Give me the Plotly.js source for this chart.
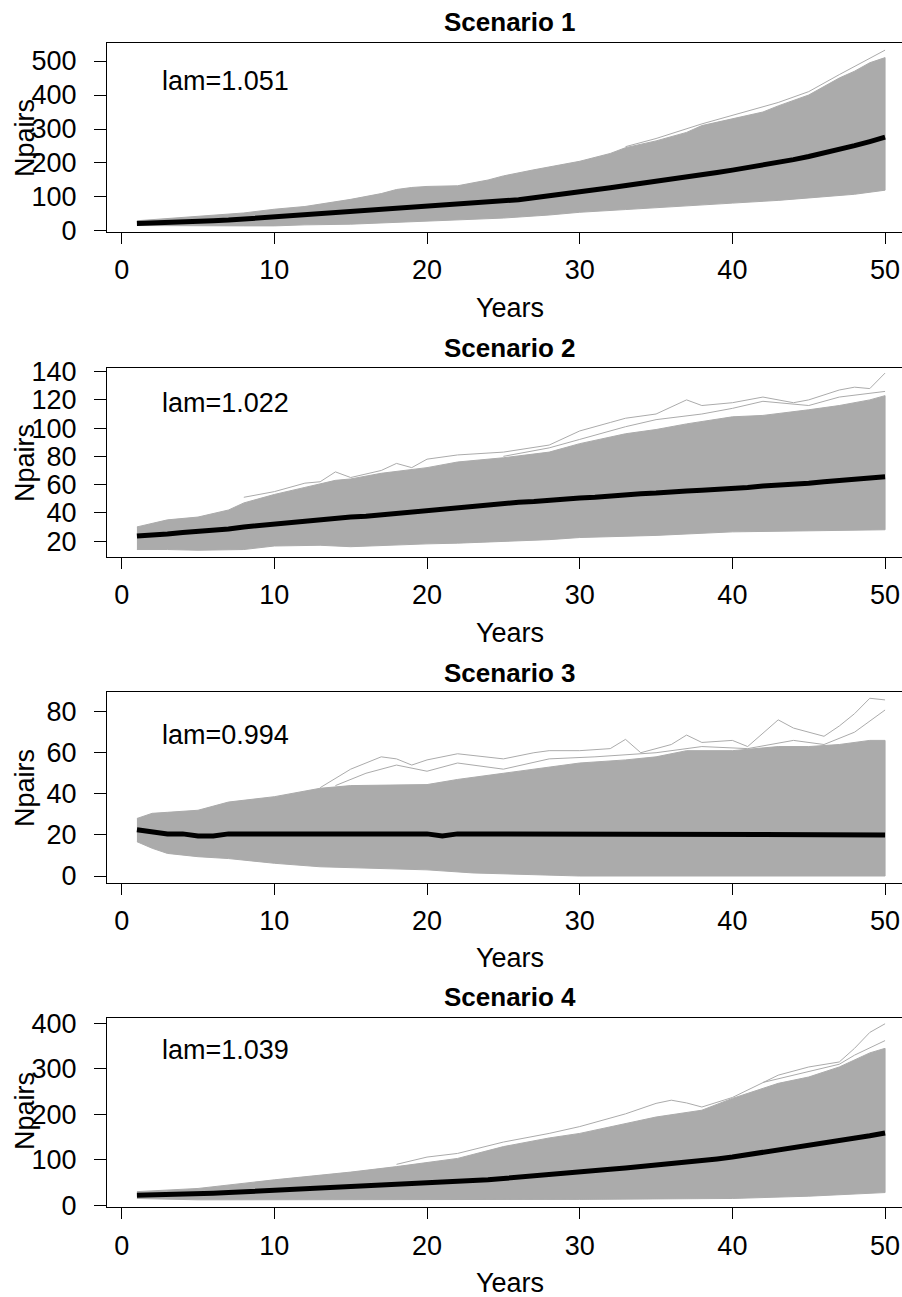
<!DOCTYPE html>
<html><head><meta charset="utf-8">
<script src="https://cdn.plot.ly/plotly-3.0.1.min.js"></script>
<style>html,body{margin:0;padding:0;overflow:hidden;background:#fff}</style>
</head><body><div id="chart"></div>
<script>
// ---------- data ----------
const years = [1,2,3,4,5,6,7,8,9,10,11,12,13,14,15,16,17,18,19,20,21,22,23,24,25,26,27,28,29,30,31,32,33,34,35,36,37,38,39,40,41,42,43,44,45,46,47,48,49,50];
const xTicks = [0,10,20,30,40,50];

// Scenario 1
const s1Median = [22,23,25,26,28,30,32,35,38,41,44,47,50,53,56,59,62,65,68,71,74,77,80,83,87,92,98,103,109,115,121,127,133,139,145,151,158,165,172,179,186,194,202,210,219,229,240,251,263,276];
const s1UpperX = [1,3,5,8,10,12,15,17,18,19,20,22,24,25,27,30,32,33,35,37,38,40,42,43,45,46,47,48,49,50];
const s1UpperY = [30,36,43,53,64,72,93,110,122,128,131,133,150,162,180,205,228,245,265,290,310,330,350,368,400,425,450,470,495,510];
const s1LowerX = [1,3,5,8,10,12,15,18,20,22,25,28,30,33,35,38,40,43,45,48,50];
const s1LowerY = [16,14,15,15,15,18,20,26,30,33,38,47,55,63,70,77,82,90,96,108,120];
const s1OutX = [33,35,38,40,43,45,47,50];
const s1OutY = [248,272,315,340,378,410,460,532];
const s1Ticks = [0,100,200,300,400,500];

// Scenario 2
const s2Median = [23.5,24,25,26,26.6,27.5,28.5,30,31,32.5,33,34,35,36,37,37.5,38.5,39.5,41,42,43,44,45,46,47,47.5,48,49,49.5,50.5,51,52,53,53.5,54,55,55.5,56,56.5,57.5,58,59,59.5,60,61,62,63,64,64.5,65.5];
const s2UpperX = [1,3,5,7,8,10,12,14,15,17,20,22,25,28,30,33,35,37,40,42,45,47,49,50];
const s2UpperY = [30,35,37,42,47,53,58,63,64,68,72,76,79,83,89,96,99,103,108,109,113,116,120,123];
const s2LowerX = [1,3,5,8,10,13,15,17,20,22,25,28,30,35,40,45,50];
const s2LowerY = [14,14,13.5,14,16.5,17,16,17,18,18.5,19.5,21,22.5,24,26.5,27.5,28];
const s2OutAX = [8,10,12,13,14,15,17,18,19,20,22,25,28,30,32,33,35,37,38,40,42,44,45,47,48,49,50];
const s2OutAY = [51,55,61,62,69,65,70,75,72,78,81,83,88,98,104,107,110,120,116,118,122,118,120,127,129,128,139];
const s2OutBX = [25,28,30,33,35,38,40,42,45,47,50];
const s2OutBY = [80,86,92,101,106,110,114,119,116,122,126];
const s2Ticks = [20,40,60,80,100,120,140];

// Scenario 3
const s3Median = [22.5,21.5,20.5,20.5,19.5,19.5,20.5,20.5,20.5,20.5,20.5,20.5,20.5,20.5,20.5,20.5,20.5,20.5,20.5,20.5,19.5,20.5,20.5,20.5,20,20,20,20,20,20,20,20,20,20,20,20,20,20,20,20,20,20,20,20,20,20,20,20,20,20];
const s3UpperX = [1,2,3,5,7,10,13,15,20,22,25,28,30,33,35,37,40,43,45,47,49,50];
const s3UpperY = [28,30.5,31,32,36,38.6,42.7,44,44.5,47,50,53,55,56.5,58,61,61,63,63,64,66,66];
const s3LowerX = [1,2,3,5,7,10,13,17,20,23,25,30,50];
const s3LowerY = [16.7,13.5,11,9.4,8.5,6.2,4.5,3.5,3,1.5,1,0,0];
const s3OutAX = [13,15,17,18,19,20,22,24,25,27,28,30,32,33,34,36,37,38,40,41,43,44,45,46,47,48,49,50];
const s3OutAY = [43,52,58,57,54,56.5,59.5,58,57,60,61,61,62,66.5,60,64,68.6,65,66,63,76,72,70,68,73,79,86.5,85.7];
const s3OutBX = [14,16,18,20,22,25,28,31,35,38,41,44,46,48,50];
const s3OutBY = [44,50,54,51,55,52,57,58,60,63,62,66,64,70,80.8];
const s3Ticks = [0,20,40,60,80];

// Scenario 4
const s4Median = [22,22.5,23,24,25,26.5,28,29.5,31,33,34.5,36,37,38.5,40,41.5,43,44.5,46,48,49.5,51,53.5,56,59,61.5,64,67,70,73,76,79,82,85,88,91.5,95,98.5,102,106,111,116,121,126,132,137,142,147,153,159];
const s4UpperX = [1,5,10,15,18,20,22,25,28,30,33,35,38,40,43,45,47,48,49,50];
const s4UpperY = [30,37,56,73,85,94,103,129,148,158,180,194,209,235,268,282,304,320,335,345];
const s4LowerX = [1,5,10,20,30,40,45,50];
const s4LowerY = [15,12,12,12,13,15,20,28];
const s4OutAX = [18,20,22,25,28,30,33,35,36,37,38,40,43,45,47,48,49,50];
const s4OutAY = [90,106,114,139,158,173,201,224,231,225,216,237,286,304,315,345,380,399];
const s4OutBX = [42,45,47,48,50];
const s4OutBY = [270,295,310,330,362];
const s4Ticks = [0,100,200,300,400];

const titles = ['Scenario 1','Scenario 2','Scenario 3','Scenario 4'];
const lams = ['lam=1.051','lam=1.022','lam=0.994','lam=1.039'];

// ---------- layout geometry ----------
const W = 920, H = 1297;
const FONT = 'Liberation Sans, Arial, sans-serif';
const GREY = '#ababab';
const px = v => v / W;
const py = v => 1 - v / H;

const panels = [
  {med:s1Median, ux:s1UpperX, uy:s1UpperY, lx:s1LowerX, ly:s1LowerY, outs:[[s1OutX,s1OutY]], ticks:s1Ticks, range:[-3,553], top:43, bot:232, titleY:22, yearsY:308, npY:138, lamY:81},
  {med:s2Median, ux:s2UpperX, uy:s2UpperY, lx:s2LowerX, ly:s2LowerY, outs:[[s2OutAX,s2OutAY],[s2OutBX,s2OutBY]], ticks:s2Ticks, range:[8.7,142.8], top:367.7, bot:557, titleY:348, yearsY:633, npY:463, lamY:403},
  {med:s3Median, ux:s3UpperX, uy:s3UpperY, lx:s3LowerX, ly:s3LowerY, outs:[[s3OutAX,s3OutAY],[s3OutBX,s3OutBY]], ticks:s3Ticks, range:[-3.4,89.7], top:691.7, bot:883, titleY:673, yearsY:958, npY:788, lamY:735},
  {med:s4Median, ux:s4UpperX, uy:s4UpperY, lx:s4LowerX, ly:s4LowerY, outs:[[s4OutAX,s4OutAY],[s4OutBX,s4OutBY]], ticks:s4Ticks, range:[-4.4,411], top:1018.3, bot:1207.3, titleY:997, yearsY:1283, npY:1111, lamY:1050}
];

const traces = [];
const layout = {
  width: W, height: H,
  margin: {l:0, r:0, t:0, b:0},
  paper_bgcolor: '#fff', plot_bgcolor: '#fff',
  showlegend: false,
  font: {family: FONT, color: '#000'},
  annotations: []
};

panels.forEach((p, i) => {
  const n = i + 1;
  const xa = n === 1 ? 'x' : 'x' + n;
  const ya = n === 1 ? 'y' : 'y' + n;
  // band polygon built from the envelope arrays
  const bx = p.ux.concat(p.lx.slice().reverse());
  const by = p.uy.concat(p.ly.slice().reverse());
  traces.push({x: bx, y: by, xaxis: xa, yaxis: ya, mode: 'lines', fill: 'toself',
    fillcolor: GREY, line: {color: GREY, width: 1}, hoverinfo: 'skip'});
  p.outs.forEach(o => {
    traces.push({x: o[0], y: o[1], xaxis: xa, yaxis: ya, mode: 'lines',
      line: {color: GREY, width: 1}, hoverinfo: 'skip'});
  });
  traces.push({x: years, y: p.med, xaxis: xa, yaxis: ya, mode: 'lines',
    line: {color: '#000', width: 5}});

  layout['xaxis' + (n === 1 ? '' : n)] = {
    domain: [px(107), px(915)], range: [-0.96, 51.96], anchor: ya,
    tickmode: 'array', tickvals: xTicks, ticktext: xTicks.map(String),
    ticks: 'outside', ticklen: 11, tickwidth: 1, tickcolor: '#000',
    showline: true, mirror: true, linecolor: '#000', linewidth: 1,
    showgrid: false, zeroline: false, ticklabelstandoff: 3,
    tickfont: {family: FONT, size: 27, color: '#000'}
  };
  layout['yaxis' + (n === 1 ? '' : n)] = {
    domain: [py(p.bot), py(p.top)], range: p.range, anchor: xa,
    tickmode: 'array', tickvals: p.ticks, ticktext: p.ticks.map(String),
    ticks: 'outside', ticklen: 12, tickwidth: 1, tickcolor: '#000',
    showline: true, mirror: true, linecolor: '#000', linewidth: 1,
    showgrid: false, zeroline: false, ticklabelstandoff: 12,
    tickfont: {family: FONT, size: 27, color: '#000'}
  };

  layout.annotations.push(
    {text: '<b>' + titles[i] + '</b>', xref: 'paper', yref: 'paper', x: px(510), y: py(p.titleY),
     xanchor: 'center', yanchor: 'middle', showarrow: false, font: {family: FONT, size: 26, color: '#000'}},
    {text: 'Years', xref: 'paper', yref: 'paper', x: px(510), y: py(p.yearsY),
     xanchor: 'center', yanchor: 'middle', showarrow: false, font: {family: FONT, size: 27, color: '#000'}},
    {text: 'Npairs', xref: 'paper', yref: 'paper', x: px(25), y: py(p.npY), textangle: -90,
     xanchor: 'center', yanchor: 'middle', showarrow: false, font: {family: FONT, size: 27, color: '#000'}},
    {text: lams[i], xref: 'paper', yref: 'paper', x: px(160), y: py(p.lamY),
     xanchor: 'left', yanchor: 'middle', showarrow: false, font: {family: FONT, size: 27, color: '#000'}}
  );
});

Plotly.newPlot('chart', traces, layout, {staticPlot: true, displayModeBar: false});
</script></body></html>
